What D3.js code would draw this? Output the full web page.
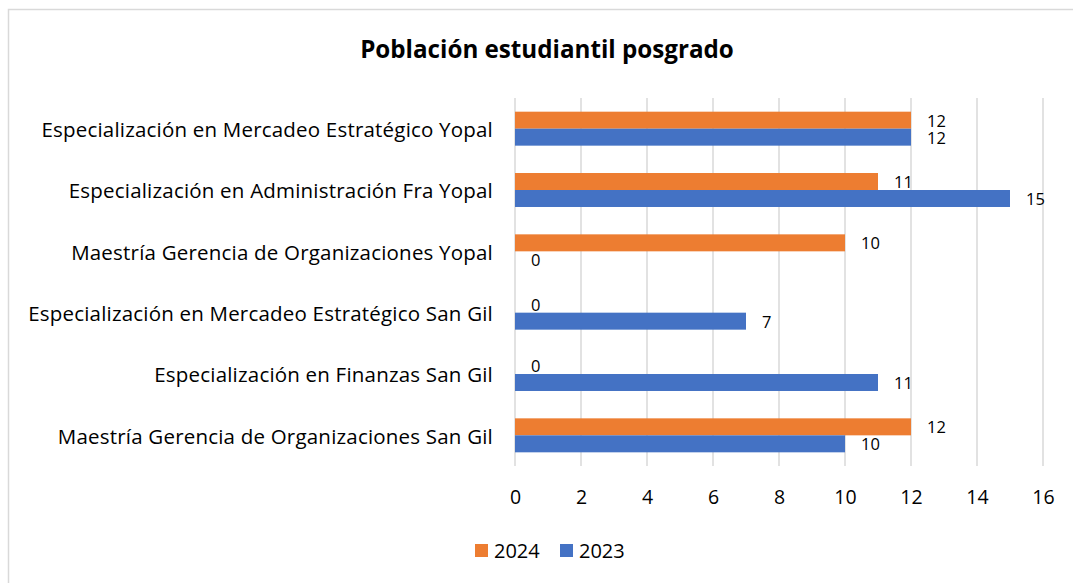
<!DOCTYPE html>
<html>
<head>
<meta charset="utf-8">
<script src="https://cdn.jsdelivr.net/npm/d3@7"></script>
<style>
  body { margin: 0; background: #fff; }
  text { font-family: "Open Sans", sans-serif; fill: #000; }
</style>
</head>
<body>
<div id="chart"></div>
<script>
// chart data, top to bottom
const categories = [
    "Especialización en Mercadeo Estratégico Yopal",
    "Especialización en Administración Fra Yopal",
    "Maestría Gerencia de Organizaciones Yopal",
    "Especialización en Mercadeo Estratégico San Gil",
    "Especialización en Finanzas San Gil",
    "Maestría Gerencia de Organizaciones San Gil"
];
const values2024 = [12, 11, 10, 0, 0, 12];
const values2023 = [12, 15, 0, 7, 11, 10];
const seriesNames = ["2024", "2023"];
const xTicks = [0, 2, 4, 6, 8, 10, 12, 14, 16];

const colors = {"2024": "#ED7D31", "2023": "#4472C4"};

const width = 1073, height = 583;
const margin = {top: 98, bottom: 117, left: 515, right: 30};

let svg = d3.select("#chart")
    .append("svg")
    .attr("width", width)
    .attr("height", height);

// outer chart border
svg.append("rect")
    .attr("x", 8.5).attr("y", 9.5)
    .attr("width", width).attr("height", height)
    .attr("fill", "none")
    .attr("stroke", "#d9d9d9")
    .attr("stroke-width", 1.5);

svg.append("text")
    .attr("x", 547).attr("y", 58)
    .attr("text-anchor", "middle")
    .style("font-size", "24.2px")
    .style("font-weight", "bold")
    .text("Población estudiantil posgrado");

let x = d3.scaleLinear()
    .domain([0, 16])
    .range([margin.left, width - margin.right]);

let y = d3.scaleBand()
    .domain(categories)
    .range([margin.top, height - margin.bottom])
    .paddingInner(0.446)
    .paddingOuter(0.223);

let ySub = d3.scaleBand()
    .domain(seriesNames)
    .range([0, y.bandwidth()]);

// gridlines
svg.append("g")
    .selectAll("line")
    .data(xTicks)
    .join("line")
    .attr("x1", d => x(d)).attr("x2", d => x(d))
    .attr("y1", margin.top).attr("y2", height - margin.bottom)
    .attr("stroke", "#d9d9d9")
    .attr("stroke-width", 1.5);

// x axis labels
let xAxis = svg.append("g")
    .attr("transform", "translate(0," + (height - margin.bottom) + ")")
    .call(d3.axisBottom(x).tickValues(xTicks).tickSize(0).tickPadding(24));
xAxis.select(".domain").remove();
xAxis.selectAll("text")
    .style("font-size", "19.5px")
    .style("font-family", "'Open Sans', sans-serif");

// category labels
let yAxis = svg.append("g")
    .attr("transform", "translate(" + margin.left + ",0)")
    .call(d3.axisLeft(y).tickSize(0).tickPadding(22));
yAxis.select(".domain").remove();
yAxis.selectAll("text")
    .attr("dy", "0.4em")
    .style("font-size", "20.5px")
    .style("letter-spacing", "0.2px")
    .style("font-family", "'Open Sans', sans-serif");

let rows = categories.map((c, i) => [
    {cat: c, key: "2024", value: values2024[i]},
    {cat: c, key: "2023", value: values2023[i]}
]).flat();

svg.append("g")
    .selectAll("rect")
    .data(rows)
    .join("rect")
    .attr("x", x(0))
    .attr("y", d => y(d.cat) + ySub(d.key))
    .attr("width", d => x(d.value) - x(0))
    .attr("height", ySub.bandwidth())
    .attr("fill", d => colors[d.key]);

// data labels
svg.append("g")
    .selectAll("text")
    .data(rows)
    .join("text")
    .attr("x", d => x(d.value) + 16)
    .attr("y", d => y(d.cat) + ySub(d.key) + ySub.bandwidth() / 2)
    .attr("dy", "0.4em")
    .style("font-size", "16.5px")
    .text(d => d.value);

// legend
let legend = svg.append("g")
    .selectAll("g")
    .data(seriesNames)
    .join("g")
    .attr("transform", (d, i) => "translate(" + (475 + i * 85) + ",544)");
legend.append("rect")
    .attr("width", 13).attr("height", 13)
    .attr("fill", d => colors[d]);
legend.append("text")
    .attr("x", 19).attr("y", 13.5)
    .style("font-size", "20px")
    .text(d => d);
</script>
</body>
</html>
